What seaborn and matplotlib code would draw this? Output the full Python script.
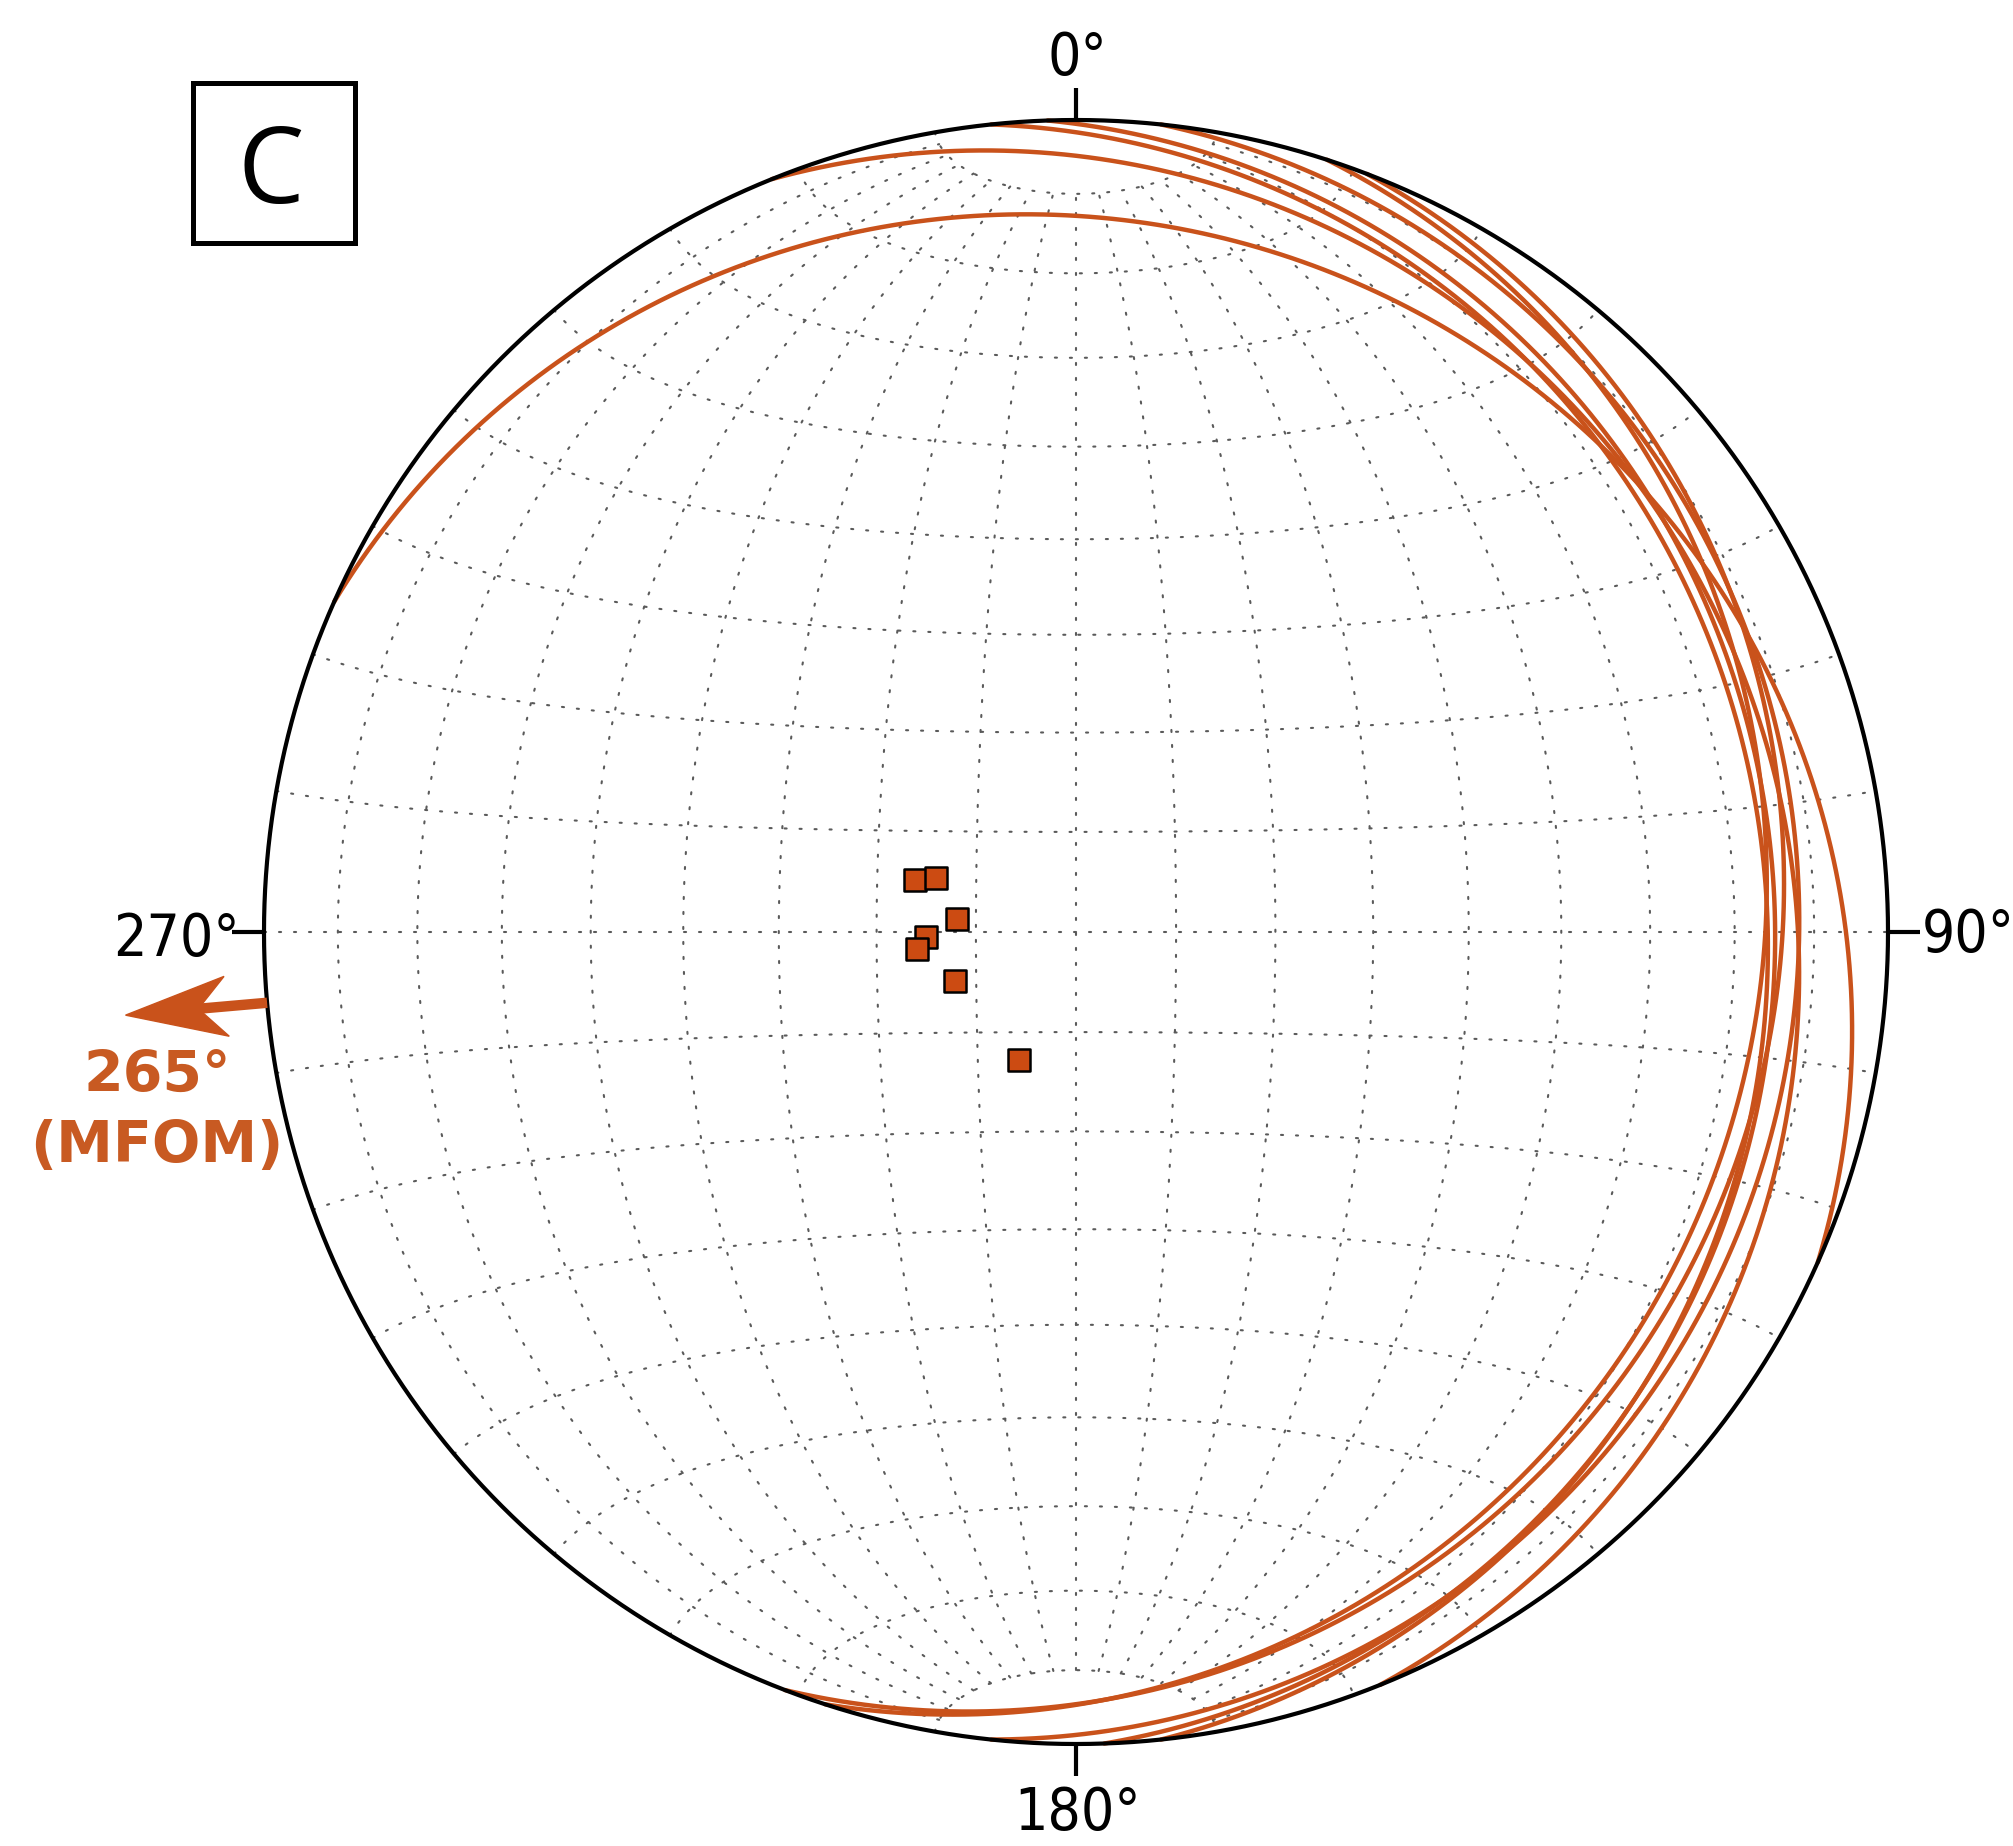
import numpy as np
import pandas as pd
import matplotlib
matplotlib.use("Agg")
import matplotlib.pyplot as plt
from matplotlib import font_manager
from matplotlib.patches import Rectangle, Polygon
import seaborn as sns

# Bedding planes: right-hand-rule strike and dip (degrees)
plane_id = ["P1", "P2", "P3", "P4", "P5", "P6", "P7"]
strikes = [18, 21, 6, 358, 354, 338, 294]
dips = [17, 15, 12, 15, 16, 13, 14]

# Primitive-circle azimuth ticks
cardinal_azimuths = [0, 90, 180, 270]
cardinal_labels = ["0°", "90°", "180°", "270°"]

# Mean flow direction annotation
flow_azimuth = 265
flow_label = ["265°", "(MFOM)"]
panel_label = "C"

# Colours
ORANGE = "#c9521b"
SQUARE = "#cc4b12"
TEXT_ORANGE = "#c85a22"
GRID = "#5a5a5a"

# Figure geometry (pixels): net centre and radius
W, H, DPI = 2013, 1846, 100
CX, CY, R = 1076, 932, 812

sns.set_theme(style="white")
plt.rcParams["font.family"] = ["DejaVu Sans"]


def px(x, y):
    """Pixel position (origin top-left) -> net coordinates (unit primitive)."""
    return (x - CX) / R, (CY - y) / R


def project(trend, plunge):
    """Lower-hemisphere equal-area (Schmidt) projection of a line."""
    t = np.radians(trend)
    p = np.radians(plunge)
    r = np.sqrt(2) * np.sin((np.pi / 2 - p) / 2)
    return r * np.sin(t), r * np.cos(t)


def plane_trace(strike, dip, n=400):
    """Great circle of a plane given by RHR strike / dip."""
    s = np.radians(strike)
    d = np.radians(dip)
    dd = s + np.pi / 2
    sv = np.array([np.sin(s), np.cos(s), 0.0])
    dv = np.array([np.cos(d) * np.sin(dd), np.cos(d) * np.cos(dd), np.sin(d)])
    phi = np.linspace(0, np.pi, n)
    v = np.outer(np.cos(phi), sv) + np.outer(np.sin(phi), dv)
    trend = np.degrees(np.arctan2(v[:, 0], v[:, 1]))
    plunge = np.degrees(np.arcsin(np.clip(v[:, 2], -1, 1)))
    return project(trend, plunge)


def net_xy(lon, lat):
    """Lambert azimuthal equal-area net graticule, scaled to the unit circle."""
    lon = np.radians(lon)
    lat = np.radians(lat)
    k = np.sqrt(2 / (1 + np.cos(lat) * np.cos(lon)))
    return k * np.cos(lat) * np.sin(lon) / np.sqrt(2), k * np.sin(lat) / np.sqrt(2)


def condensed_font():
    """Return a narrow font spec for the azimuth labels if one is installed."""
    for fam in ["Liberation Sans Narrow", "DejaVu Sans Condensed"]:
        try:
            font_manager.findfont(font_manager.FontProperties(family=fam),
                                  fallback_to_default=False)
            return dict(family=[fam, "DejaVu Sans"], size=45)
        except Exception:
            pass
    path = font_manager.findfont(
        font_manager.FontProperties(family="DejaVu Sans", stretch="condensed"))
    if "Condensed" in path:
        return dict(family=["DejaVu Sans"], stretch="condensed", size=42)
    return dict(family=["DejaVu Sans"], size=34)


fig = plt.figure(figsize=(W / DPI, H / DPI), dpi=DPI)
ax = fig.add_axes([0, 0, 1, 1])
ax.set_xlim(px(0, 0)[0], px(W, 0)[0])
ax.set_ylim(px(0, H)[1], px(0, 0)[1])
ax.set_axis_off()

# Net graticule (10 degree spacing, dotted)
grid_kw = dict(color=GRID, lw=1.5, ls=(0, (1.0, 6.2)), zorder=1,
               solid_capstyle="round", dash_capstyle="round")
full = np.linspace(-90, 90, 361)
cap = np.linspace(-80, 80, 321)
for lat in range(-80, 90, 10):
    gx, gy = net_xy(full, np.full_like(full, lat))
    ax.plot(gx, gy, **grid_kw)
for lon in range(-80, 90, 10):
    gx, gy = net_xy(np.full_like(cap, lon), cap)
    ax.plot(gx, gy, **grid_kw)

# Great circles of the planes
frames = []
for pid, s, d in zip(plane_id, strikes, dips):
    gx, gy = plane_trace(s, d)
    frames.append(pd.DataFrame({"x": gx, "y": gy, "plane": pid}))
gc = pd.concat(frames, ignore_index=True)
sns.lineplot(data=gc, x="x", y="y", units="plane", estimator=None, sort=False,
             color=ORANGE, lw=3.2, ax=ax, zorder=3, legend=False)

# Poles to the planes
pole_x, pole_y = project(np.array(strikes) - 90.0, 90.0 - np.array(dips))
sns.scatterplot(x=pole_x, y=pole_y, marker="s", s=250, color=SQUARE,
                edgecolor="black", linewidth=1.8, ax=ax, zorder=5, legend=False)

# Primitive circle
th = np.linspace(0, 2 * np.pi, 721)
ax.plot(np.cos(th), np.sin(th), color="black", lw=3.0, zorder=6)

# Azimuth ticks and labels
tick_font = condensed_font()
for az in cardinal_azimuths:
    a = np.radians(az)
    ax.plot([np.sin(a), 1.04 * np.sin(a)], [np.cos(a), 1.04 * np.cos(a)],
            color="black", lw=3.0, zorder=6, solid_capstyle="butt")
label_pos = {
    "0°": (px(1077, 75), "center"),
    "90°": (px(1922, 952), "left"),
    "180°": (px(1078, 1830), "center"),
    "270°": (px(240, 956), "right"),
}
for lab in cardinal_labels:
    (lx, ly), ha = label_pos[lab]
    ax.text(lx, ly, lab, ha=ha, va="baseline", color="black", zorder=7,
            **tick_font)

# Mean flow arrow, pointing outward along its azimuth
a = np.radians(flow_azimuth)
u = np.array([np.sin(a), np.cos(a)])
nrm = np.array([np.cos(a), -np.sin(a)])
start = 1.0 * u
tip = 1.175 * u
head_len, head_half = 0.125, 0.037
notch = tip - 0.72 * head_len * u
ax.plot([start[0], notch[0]], [start[1], notch[1]], color=ORANGE, lw=7.5,
        solid_capstyle="butt", zorder=6)
head = Polygon([tip, tip - head_len * u + head_half * nrm, notch,
                tip - head_len * u - head_half * nrm],
               closed=True, facecolor=ORANGE, edgecolor=ORANGE, lw=1, zorder=6)
ax.add_patch(head)
fx, fy1 = px(157, 1092)
_, fy2 = px(157, 1162)
ax.text(fx, fy1, flow_label[0], ha="center", va="baseline", color=TEXT_ORANGE,
        fontsize=41, fontweight="bold", family=["DejaVu Sans"], zorder=7)
ax.text(fx, fy2, flow_label[1], ha="center", va="baseline", color=TEXT_ORANGE,
        fontsize=41, fontweight="bold", family=["DejaVu Sans"], zorder=7)

# Panel letter in a square frame
bx0, by0 = px(193, 243)
bx1, by1 = px(355, 83)
ax.add_patch(Rectangle((bx0, by0), bx1 - bx0, by1 - by0, fill=False,
                       edgecolor="black", lw=3.6, zorder=7))
cx_, cy_ = px(271, 203)
ax.text(cx_, cy_, panel_label, ha="center", va="baseline", color="black",
        fontsize=76, family=["Open Sans", "DejaVu Sans"], zorder=8)

fig.savefig("out.png", dpi=DPI, facecolor="white")
